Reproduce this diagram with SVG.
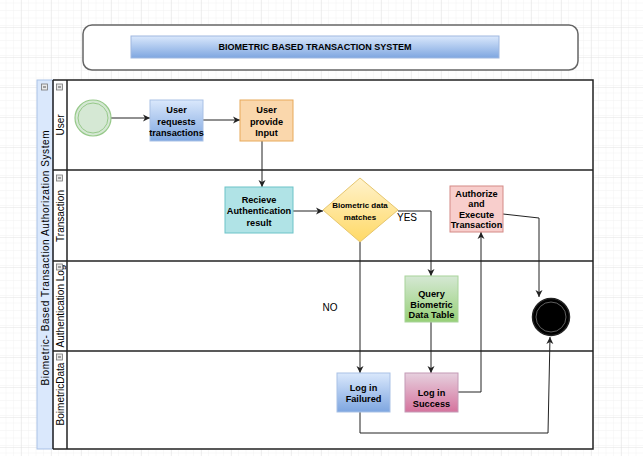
<svg xmlns="http://www.w3.org/2000/svg" width="643" height="456" viewBox="0 0 643 456">
<style>
text{font-family:"Liberation Sans",Arial,sans-serif;fill:#000}
.nt{font-size:9.2px;font-weight:bold;text-anchor:middle}
.lbl{font-size:10px;text-anchor:middle}
.edge{fill:none;stroke:#222;stroke-width:1}
.lane{fill:none;stroke:#222;stroke-width:1.5}
.icon{fill:#e8e8e8;stroke:#777;stroke-width:0.8}
</style>
<defs>
<pattern id="minor" width="7.5" height="7.5" patternUnits="userSpaceOnUse" x="22" y="28">
<path d="M7.5 0V7.5M0 7.5H7.5" fill="none" stroke="#f2f2f2" stroke-width="1"/>
</pattern>
<pattern id="major" width="30" height="30" patternUnits="userSpaceOnUse" x="22" y="28">
<rect width="30" height="30" fill="url(#minor)"/>
<path d="M30 0V30M0 30H30" fill="none" stroke="#e3e3e3" stroke-width="1"/>
</pattern>
<linearGradient id="gBlue" x1="0" y1="0" x2="0" y2="1"><stop offset="0" stop-color="#dae8fc"/><stop offset="1" stop-color="#7ea6e0"/></linearGradient>
<linearGradient id="gYellow" x1="0" y1="0" x2="0" y2="1"><stop offset="0" stop-color="#fff2cc"/><stop offset="1" stop-color="#ffd966"/></linearGradient>
<linearGradient id="gGreen" x1="0" y1="0" x2="0" y2="1"><stop offset="0" stop-color="#d5e8d4"/><stop offset="1" stop-color="#97d077"/></linearGradient>
<linearGradient id="gPink" x1="0" y1="0" x2="0" y2="1"><stop offset="0" stop-color="#e6d0de"/><stop offset="1" stop-color="#d5739d"/></linearGradient>
<marker id="arr" markerWidth="8" markerHeight="8" refX="7" refY="4" orient="auto" markerUnits="userSpaceOnUse">
<path d="M0 0.5L7 4L0 7.5L2 4Z" fill="#222"/>
</marker>
</defs>
<rect width="643" height="456" fill="#fff"/>
<rect width="643" height="456" fill="url(#major)"/>

<g id="title">
<rect x="83" y="25" width="495" height="45" rx="9" fill="#fff" stroke="#666" stroke-width="1.5"/>
<rect x="131" y="36" width="368" height="22" fill="url(#gBlue)" stroke="#9fb8e0" stroke-width="1"/>
<text x="315" y="50" textLength="193" lengthAdjust="spacingAndGlyphs" style="font-size:9px;font-weight:bold;text-anchor:middle">BIOMETRIC BASED TRANSACTION SYSTEM</text>
</g>

<g id="pool">
<rect x="37" y="80" width="556" height="369" fill="#fff"/>
<rect x="37" y="80" width="16" height="369" fill="#dae8fc" stroke="#a9c1e6" stroke-width="1"/>
<line x1="53" y1="80" x2="53" y2="449" class="lane"/>
<line x1="67" y1="80" x2="67" y2="449" class="lane"/>
<path d="M53 80H593V449H53" class="lane"/>
<line x1="53" y1="170" x2="593" y2="170" class="lane"/>
<line x1="53" y1="261" x2="593" y2="261" class="lane"/>
<line x1="53" y1="351" x2="593" y2="351" class="lane"/>
<text transform="translate(48.5,258) rotate(-90)" class="lbl" textLength="255" lengthAdjust="spacing">Biometric- Based Transaction Authorization System</text>
<text transform="translate(64,125) rotate(-90)" class="lbl">User</text>
<text transform="translate(64,216) rotate(-90)" class="lbl">Transaction</text>
<text transform="translate(64,306) rotate(-90)" class="lbl">Authentication Log</text>
<text transform="translate(64,394) rotate(-90)" class="lbl">BoimetricData</text>
<g>
<rect x="41.5" y="84" width="6" height="6" class="icon"/><path d="M43 87H46" stroke="#555" stroke-width="1"/>
<rect x="56.5" y="84" width="6" height="6" class="icon"/><path d="M58 87H61" stroke="#555" stroke-width="1"/>
<rect x="56.5" y="175" width="6" height="6" class="icon"/><path d="M58 178H61" stroke="#555" stroke-width="1"/>
<rect x="56.5" y="264" width="6" height="6" class="icon"/><path d="M58 267H61" stroke="#555" stroke-width="1"/>
<rect x="56.5" y="354" width="6" height="6" class="icon"/><path d="M58 357H61" stroke="#555" stroke-width="1"/>
</g>
</g>

<g id="connectors">
<path class="edge" d="M111 118H150" marker-end="url(#arr)"/>
<path class="edge" d="M203 120H240" marker-end="url(#arr)"/>
<path class="edge" d="M262 141V187" marker-end="url(#arr)"/>
<path class="edge" d="M293 211H323" marker-end="url(#arr)"/>
<path class="edge" d="M398 211H431V276" marker-end="url(#arr)"/>
<path class="edge" d="M360 242V373" marker-end="url(#arr)"/>
<path class="edge" d="M431 322V373" marker-end="url(#arr)"/>
<path class="edge" d="M458 392H481V232" marker-end="url(#arr)"/>
<path class="edge" d="M503 214L539 218V297" marker-end="url(#arr)"/>
<path class="edge" d="M360 412V433H548L550 337" marker-end="url(#arr)"/>
<text x="397" y="221" style="font-size:10px">YES</text>
<text x="330" y="311" class="lbl">NO</text>
</g>

<g id="start">
<circle cx="93" cy="118" r="18" fill="#d5e8d4" stroke="#97c98a" stroke-width="1.2"/>
<circle cx="93" cy="118" r="15" fill="none" stroke="#97c98a" stroke-width="1"/>
</g>

<g id="userRequests">
<rect x="150" y="100" width="53" height="41" fill="url(#gBlue)" stroke="#a9c1e6" stroke-width="1"/>
<text class="nt" x="176.5" y="113">User</text>
<text class="nt" x="176.5" y="124.5">requests</text>
<text class="nt" x="176.5" y="136">transactions</text>
</g>

<g id="userInput">
<rect x="240" y="100" width="53" height="41" fill="#fad7ac" stroke="#e8a95a" stroke-width="1"/>
<text class="nt" x="266.5" y="113">User</text>
<text class="nt" x="266.5" y="124.5">provide</text>
<text class="nt" x="266.5" y="136">Input</text>
</g>

<g id="receiveAuth">
<rect x="225" y="187" width="68" height="46" fill="#b0e3e6" stroke="#6cc3c8" stroke-width="1"/>
<text class="nt" x="259" y="202.5">Recieve</text>
<text class="nt" x="259" y="214">Authentication</text>
<text class="nt" x="259" y="225.5">result</text>
</g>

<g id="decision">
<path d="M360 178L398 210L360 242L323 210Z" fill="url(#gYellow)" stroke="#e6c66e" stroke-width="1"/>
<text x="360" y="208" style="font-size:8px;font-weight:bold;text-anchor:middle">Biometric data</text>
<text x="360" y="220" style="font-size:8px;font-weight:bold;text-anchor:middle">matches</text>
</g>

<g id="authorize">
<rect x="450" y="186" width="53" height="46" fill="#f8cecc" stroke="#d48a86" stroke-width="1"/>
<text class="nt" x="476.5" y="196.5">Authorize</text>
<text class="nt" x="476.5" y="207">and</text>
<text class="nt" x="476.5" y="217.5">Execute</text>
<text class="nt" x="476.5" y="228">Transaction</text>
</g>

<g id="query">
<rect x="405" y="276" width="53" height="46" fill="url(#gGreen)" stroke="#a8d49a" stroke-width="1"/>
<text class="nt" x="431.5" y="296.5">Query</text>
<text class="nt" x="431.5" y="307.5">Biometric</text>
<text class="nt" x="431.5" y="318">Data Table</text>
</g>

<g id="end">
<circle cx="551" cy="317" r="18.5" fill="#000" stroke="#222" stroke-width="1.5"/>
<circle cx="551" cy="317" r="15" fill="none" stroke="#777" stroke-width="0.8"/>
</g>

<g id="loginFailed">
<rect x="337" y="373" width="53" height="39" fill="url(#gBlue)" stroke="#a9c1e6" stroke-width="1"/>
<text class="nt" x="363.5" y="390.5">Log in</text>
<text class="nt" x="363.5" y="401.5">Failured</text>
</g>

<g id="loginSuccess">
<rect x="405" y="373" width="53" height="39" fill="url(#gPink)" stroke="#c49ab6" stroke-width="1"/>
<text class="nt" x="431.5" y="395.5">Log in</text>
<text class="nt" x="431.5" y="406.5">Success</text>
</g>
</svg>
